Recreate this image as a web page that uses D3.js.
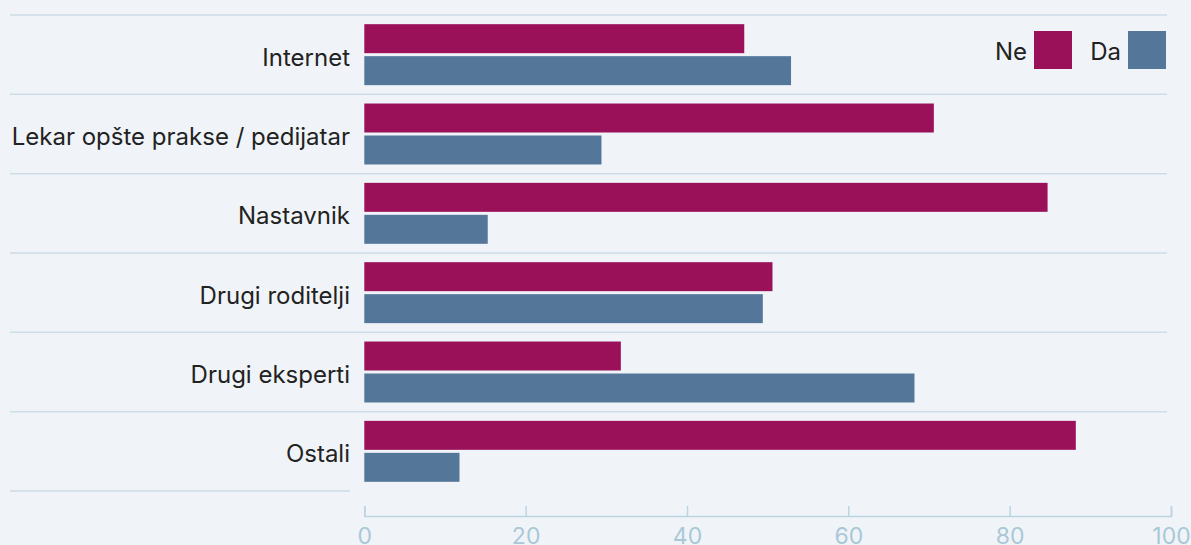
<!DOCTYPE html>
<html>
<head>
<meta charset="utf-8">
<script src="https://cdn.jsdelivr.net/npm/d3@7"></script>
<style>
  html, body { margin: 0; padding: 0; background: #f0f4f8; }
  svg { display: block; font-family: Inter, "Noto Sans", sans-serif; }
</style>
</head>
<body>
<div id="chart"></div>
<script>
// data
const categories = ["Internet", "Lekar opšte prakse / pedijatar", "Nastavnik", "Drugi roditelji", "Drugi eksperti", "Ostali"];
const seriesNames = ["Ne", "Da"];
const neValues = [47.1, 70.6, 84.7, 50.6, 31.8, 88.2];
const daValues = [52.9, 29.4, 15.3, 49.4, 68.2, 11.8];
const xTicks = [0, 20, 40, 60, 80, 100];
const colors = ["#9a1159", "#547799"];

const width = 1191, height = 545;
const plotLeft = 364.3, plotRight = 1171, plotTop = 15, plotBottom = 491;

const svg = d3.select("#chart").append("svg")
  .attr("width", width)
  .attr("height", height);

const x = d3.scaleLinear().domain([0, 100]).range([plotLeft, plotRight]);
const y = d3.scaleBand().domain(categories).range([plotTop, plotBottom]);
const ySub = d3.scaleBand().domain(seriesNames).range([0, y.bandwidth()])
  .paddingInner(0.094).paddingOuter(0.287);

const rows = categories.map((c, i) => ({cat: c, values: [neValues[i], daValues[i]]}));

// grid lines between categories
const gridY = categories.map(c => y(c)).concat([plotBottom]);
svg.append("g").selectAll("line")
  .data(gridY)
  .join("line")
  .attr("x1", 10)
  .attr("x2", (d, i) => i === gridY.length - 1 ? 350 : 1167)
  .attr("y1", d => d)
  .attr("y2", d => d)
  .attr("stroke", "#cddde7")
  .attr("stroke-width", 1.5);

// bars
const groups = svg.append("g").selectAll("g")
  .data(rows)
  .join("g")
  .attr("transform", d => `translate(0,${y(d.cat)})`);

groups.selectAll("rect")
  .data(d => d.values.map((v, i) => ({key: seriesNames[i], v, i})))
  .join("rect")
  .attr("x", x(0))
  .attr("y", d => ySub(d.key))
  .attr("width", d => x(d.v) - x(0))
  .attr("height", ySub.bandwidth())
  .attr("fill", d => colors[d.i]);

// category labels
svg.append("g").selectAll("text")
  .data(categories)
  .join("text")
  .attr("x", 350)
  .attr("y", d => y(d) + y.bandwidth() / 2)
  .attr("dy", "0.46em")
  .attr("text-anchor", "end")
  .attr("font-size", 24)
  .attr("fill", "#222")
  .text(d => d);

// x axis
const xaxis = svg.append("g")
  .attr("transform", "translate(0,516)")
  .call(d3.axisBottom(x).tickValues(xTicks).tickSizeInner(-10).tickSizeOuter(-10).tickPadding(12));
xaxis.select(".domain").attr("stroke", "#bcd4e0").attr("stroke-width", 1.5);
xaxis.selectAll(".tick line").attr("stroke", "#bcd4e0").attr("stroke-width", 1.5);
xaxis.selectAll(".tick text")
  .attr("font-size", 23)
  .attr("font-family", "Inter, sans-serif")
  .attr("fill", "#a9c8d7");

// legend
const legend = svg.append("g").selectAll("g")
  .data(seriesNames)
  .join("g")
  .attr("transform", (d, i) => `translate(${1034 + i * 94},31)`);
legend.append("rect")
  .attr("width", 38)
  .attr("height", 38)
  .attr("fill", (d, i) => colors[i]);
legend.append("text")
  .attr("x", -7)
  .attr("y", 19)
  .attr("dy", "0.42em")
  .attr("text-anchor", "end")
  .attr("font-size", 24)
  .attr("fill", "#222")
  .text(d => d);
</script>
</body>
</html>
